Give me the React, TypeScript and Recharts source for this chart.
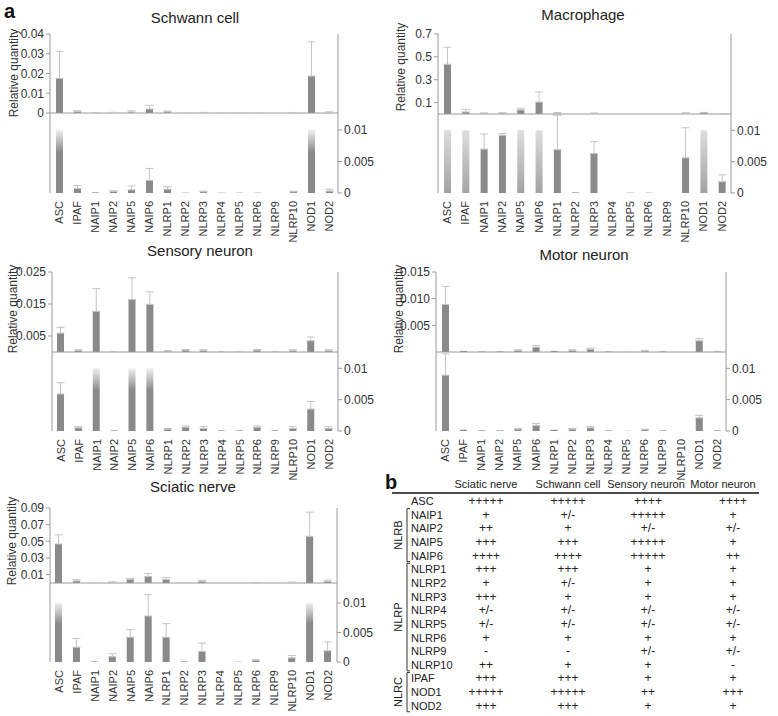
import React from 'react';
import { BarChart, Bar, XAxis, YAxis, ErrorBar, Cell, ReferenceLine } from 'recharts';

const genes = ['ASC', 'IPAF', 'NAIP1', 'NAIP2', 'NAIP5', 'NAIP6', 'NLRP1', 'NLRP2', 'NLRP3', 'NLRP4', 'NLRP5', 'NLRP6', 'NLRP9', 'NLRP10', 'NOD1', 'NOD2'];

const schwannValues = [0.0175, 0.0007, 0.0001, 0.00025, 0.0005, 0.002, 0.0006, 0.00005, 0.0002, 0.00005, 0.00005, 0.00005, 0, 0.0002, 0.0187, 0.0003];
const schwannErrors = [0.0137, 0.0005, 0, 0.0001, 0.0006, 0.0019, 0.0004, 0, 0.0001, 0, 0, 0, 0, 0.0001, 0.0173, 0.0003];

const macrophageValues = [0.435, 0.018, 0.007, 0.0092, 0.036, 0.104, 0.0069, 0.0001, 0.0063, 0, 0.00005, 0.00005, 0, 0.0056, 0.012, 0.0018];
const macrophageErrors = [0.149, 0.023, 0.0024, 0.0003, 0.014, 0.089, 0.0055, 0, 0.0019, 0, 0, 0, 0, 0.0048, 0.002, 0.0011];

const sensoryValues = [0.0059, 0.0005, 0.0127, 0.0001, 0.0164, 0.0149, 0.0003, 0.0006, 0.0004, 0.0001, 0.0001, 0.0006, 0.0001, 0.0004, 0.0035, 0.0004];
const sensoryErrors = [0.0018, 0.0002, 0.0071, 0, 0.0068, 0.0039, 0.0001, 0.0002, 0.0003, 0, 0, 0.0002, 0, 0.0003, 0.0012, 0.0003];

const motorValues = [0.0089, 0.0002, 0.0001, 0.0001, 0.0003, 0.0009, 0.0002, 0.0003, 0.0005, 0.0001, 0.00003, 0.0002, 0.0001, 0, 0.0021, 0.0001];
const motorErrors = [0.0034, 0, 0, 0, 0.0001, 0.0003, 0, 0.0001, 0.0002, 0, 0, 0.0001, 0, 0, 0.0004, 0];

const sciaticValues = [0.0468, 0.0025, 0.0001, 0.0009, 0.0042, 0.0078, 0.0042, 0.0001, 0.0018, 0, 0.00005, 0.0003, 0, 0.0007, 0.056, 0.0019];
const sciaticErrors = [0.011, 0.0015, 0, 0.0005, 0.0013, 0.0036, 0.0023, 0, 0.0014, 0, 0, 0.0001, 0, 0.0004, 0.029, 0.0015];

const schwannTicks = [0, 0.01, 0.02, 0.03, 0.04];
const schwannTickLabels = ['0', '0.01', '0.02', '0.03', '0.04'];
const macrophageTicks = [0.1, 0.3, 0.5, 0.7];
const macrophageTickLabels = ['0.1', '0.3', '0.5', '0.7'];
const sensoryTicks = [0.005, 0.015, 0.025];
const sensoryTickLabels = ['0.005', '0.015', '0.025'];
const motorTicks = [0.005, 0.01, 0.015];
const motorTickLabels = ['0.005', '0.010', '0.015'];
const sciaticTicks = [0.01, 0.03, 0.05, 0.07, 0.09];
const sciaticTickLabels = ['0.01', '0.03', '0.05', '0.07', '0.09'];
const zoomTicks = [0, 0.005, 0.01];
const zoomTickLabels = ['0', '0.005', '0.01'];
const boundaryTicks = [1, 2, 3, 4, 5, 6, 7, 8, 9, 10, 11, 12, 13, 14, 15];
const CAP = 0.01;

// table (panel b)
const tableHeaders = ['Sciatic nerve', 'Schwann cell', 'Sensory neuron', 'Motor neuron'];
const tableGenes = ['ASC', 'NAIP1', 'NAIP2', 'NAIP5', 'NAIP6', 'NLRP1', 'NLRP2', 'NLRP3', 'NLRP4', 'NLRP5', 'NLRP6', 'NLRP9', 'NLRP10', 'IPAF', 'NOD1', 'NOD2'];
const sciaticCol = ['+++++', '+', '++', '+++', '++++', '+++', '+', '+++', '+/-', '+/-', '+', '-', '++', '+++', '+++++', '+++'];
const schwannCol = ['+++++', '+/-', '+', '+++', '++++', '+++', '+/-', '+', '+/-', '+/-', '+', '-', '+', '+++', '+++++', '+++'];
const sensoryCol = ['++++', '+++++', '+/-', '+++++', '+++++', '+', '+', '+', '+/-', '+/-', '+', '+/-', '+', '+', '++', '+'];
const motorCol = ['++++', '+', '+/-', '+', '++', '+', '+', '+', '+/-', '+/-', '+', '+/-', '-', '+', '+++', '+'];
const tableGroups = [
  { name: 'NLRB', from: 1, to: 4 },
  { name: 'NLRP', from: 5, to: 12 },
  { name: 'NLRC', from: 13, to: 15 },
];

const FONT = "'Liberation Sans', Arial, Helvetica, sans-serif";
const BAR = '#8a8a8a';
const ERR = '#c4c4c4';
const AXIS = '#9a9a9a';
const TXT = '#333';

type PanelCfg = {
  id: string;
  title: string;
  titleX: number;
  titleY: number;
  labelX: number;
  labelY: number;
  left: number;
  right: number;
  top: number;
  mid: number;
  bot: number;
  values: number[];
  errors: number[];
  topMax: number;
  topTicks: number[];
  topTickLabels: string[];
  botMax: number;
  soft: boolean;
};

const panels: PanelCfg[] = [
  { id: 'sc', title: 'Schwann cell', titleX: 195, titleY: 17, labelX: 14, labelY: 73, left: 50, right: 338, top: 34, mid: 113, bot: 193, values: schwannValues, errors: schwannErrors, topMax: 0.04, topTicks: schwannTicks, topTickLabels: schwannTickLabels, botMax: 0.0127, soft: false },
  { id: 'ma', title: 'Macrophage', titleX: 583, titleY: 14, labelX: 401, labelY: 67, left: 438, right: 731, top: 34, mid: 114, bot: 193, values: macrophageValues, errors: macrophageErrors, topMax: 0.7, topTicks: macrophageTicks, topTickLabels: macrophageTickLabels, botMax: 0.0126, soft: true },
  { id: 'se', title: 'Sensory neuron', titleX: 200, titleY: 250, labelX: 13, labelY: 309, left: 52, right: 338, top: 272, mid: 352, bot: 431, values: sensoryValues, errors: sensoryErrors, topMax: 0.025, topTicks: sensoryTicks, topTickLabels: sensoryTickLabels, botMax: 0.0126, soft: false },
  { id: 'mo', title: 'Motor neuron', titleX: 584, titleY: 254, labelX: 399, labelY: 309, left: 436, right: 726, top: 272, mid: 352, bot: 431, values: motorValues, errors: motorErrors, topMax: 0.015, topTicks: motorTicks, topTickLabels: motorTickLabels, botMax: 0.0126, soft: false },
  { id: 'sn', title: 'Sciatic nerve', titleX: 193, titleY: 486, labelX: 12, labelY: 541, left: 50, right: 337, top: 508, mid: 583, bot: 662, values: sciaticValues, errors: sciaticErrors, topMax: 0.09, topTicks: sciaticTicks, topTickLabels: sciaticTickLabels, botMax: 0.0134, soft: false },
];

const RotTick = (props: any) => {
  const { x, y, payload } = props;
  return (
    <g transform={`translate(${x},${y})`}>
      <text transform="rotate(-90)" x={0} y={0} dy="0.35em" textAnchor="end" fontSize={11} fill={TXT} fontFamily={FONT}>
        {payload.value}
      </text>
    </g>
  );
};

function Panel({ cfg }: { cfg: PanelCfg }) {
  const data = genes.map((g, i) => {
    const v = cfg.values[i];
    const e = cfg.errors[i];
    const capped = v > CAP;
    return {
      gene: g,
      value: v,
      shown: Math.min(v, CAP),
      capped,
      errTop: e > 0 ? [0, e] : undefined,
      errLow: e > 0 && !capped ? [0, e] : undefined,
    };
  });
  const chartLeft = cfg.left - 50;
  const width = cfg.right - cfg.left + 100;
  const topH = cfg.mid - cfg.top;
  const botH = cfg.bot - cfg.mid;
  const gid = `grad-${cfg.id}`;
  const tickStyle = { fill: TXT, fontSize: 12, fontFamily: FONT };
  return (
    <>
      <div style={{ position: 'absolute', left: chartLeft, top: cfg.mid }}>
        <BarChart width={width} height={botH + 56} data={data} margin={{ top: 0, right: 0, bottom: 0, left: 0 }} barSize={7}>
          <defs>
            {cfg.soft ? (
              <linearGradient id={gid} x1="0" y1="0" x2="0" y2="1">
                <stop offset="0%" stopColor="#dedede" />
                <stop offset="100%" stopColor="#a2a2a2" />
              </linearGradient>
            ) : (
              <linearGradient id={gid} x1="0" y1="0" x2="0" y2="1">
                <stop offset="0%" stopColor="#efefef" />
                <stop offset="35%" stopColor={BAR} />
                <stop offset="100%" stopColor={BAR} />
              </linearGradient>
            )}
          </defs>
          <XAxis dataKey="gene" axisLine={false} tickLine={false} height={56} tick={<RotTick />} interval={0} tickMargin={2} />
          <YAxis yAxisId="l" domain={[0, 1]} ticks={[0.28, 0.56, 0.84]} tickFormatter={() => ''} width={50} stroke={AXIS} tickSize={4} />
          <YAxis
            yAxisId="r"
            orientation="right"
            domain={[0, cfg.botMax]}
            ticks={zoomTicks}
            tickFormatter={(v: number) => zoomTickLabels[zoomTicks.indexOf(v)] ?? ''}
            width={50}
            stroke={AXIS}
            tick={tickStyle}
            tickSize={4}
            interval={0}
          />
          <Bar yAxisId="r" dataKey="shown" fill={BAR} isAnimationActive={false}>
            {data.map((d, i) => (
              <Cell key={i} fill={d.capped ? `url(#${gid})` : BAR} />
            ))}
            <ErrorBar dataKey="errLow" stroke={ERR} width={4} strokeWidth={1} />
          </Bar>
        </BarChart>
      </div>
      <div style={{ position: 'absolute', left: chartLeft, top: cfg.top - 8 }}>
        <BarChart width={width} height={topH + 16} data={data} margin={{ top: 8, right: 0, bottom: 8, left: 0 }} barSize={7}>
          <XAxis dataKey="gene" hide />
          <XAxis
            xAxisId="b"
            type="number"
            domain={[0, 16]}
            ticks={boundaryTicks}
            tickFormatter={() => ''}
            height={0}
            axisLine={false}
            stroke={AXIS}
            tickSize={3}
            interval={0}
          />
          <YAxis
            yAxisId="l"
            domain={[0, cfg.topMax]}
            ticks={cfg.topTicks}
            tickFormatter={(v: number) => cfg.topTickLabels[cfg.topTicks.indexOf(v)] ?? ''}
            width={50}
            stroke={AXIS}
            tick={tickStyle}
            tickSize={4}
            interval={0}
          />
          <YAxis yAxisId="r" orientation="right" domain={[0, 1]} ticks={[0.19, 0.59, 0.98]} tickFormatter={() => ''} width={50} stroke={AXIS} tickSize={4} />
          <ReferenceLine yAxisId="l" y={0} stroke={AXIS} />
          <Bar yAxisId="l" dataKey="value" fill={BAR} isAnimationActive={false}>
            <ErrorBar dataKey="errTop" stroke={ERR} width={4} strokeWidth={1} />
          </Bar>
        </BarChart>
      </div>
    </>
  );
}

function Overlay() {
  const rowY0 = 501;
  const rowStep = 13.65;
  const cols = [486, 568, 648, 733];
  const headerX = [486, 568, 646, 723];
  const colData = [sciaticCol, schwannCol, sensoryCol, motorCol];
  return (
    <svg width={778} height={716} style={{ position: 'absolute', left: 0, top: 0, pointerEvents: 'none' }} fontFamily={FONT}>
      <text x={4} y={18} fontSize={20} fontWeight="bold" fill="#111">a</text>
      <text x={385} y={489} fontSize={20} fontWeight="bold" fill="#111">b</text>
      {panels.map((p) => (
        <g key={p.id}>
          <text x={p.titleX} y={p.titleY} fontSize={15} textAnchor="middle" dominantBaseline="central" fill="#222">{p.title}</text>
          <text transform={`translate(${p.labelX},${p.labelY}) rotate(-90)`} fontSize={12} textAnchor="middle" dominantBaseline="central" fill={TXT}>Relative quantity</text>
        </g>
      ))}
      {tableHeaders.map((h, i) => (
        <text key={h} x={headerX[i]} y={484} fontSize={11} textAnchor="middle" dominantBaseline="central" fill="#222">{h}</text>
      ))}
      <line x1={392} x2={759} y1={493} y2={493} stroke="#111" strokeWidth={1.6} />
      {tableGenes.map((g, r) => (
        <g key={g}>
          <text x={411} y={rowY0 + r * rowStep} fontSize={11} dominantBaseline="central" fill="#222">{g}</text>
          {colData.map((c, ci) => (
            <text key={ci} x={cols[ci]} y={rowY0 + r * rowStep} fontSize={12} textAnchor="middle" dominantBaseline="central" fill="#222">{c[r]}</text>
          ))}
        </g>
      ))}
      {tableGroups.map((grp) => {
        const y1 = rowY0 + grp.from * rowStep - 6;
        const y2 = rowY0 + grp.to * rowStep + 6;
        return (
          <g key={grp.name}>
            <path d={`M410,${y1} L407,${y1} L407,${y2} L410,${y2}`} fill="none" stroke="#333" strokeWidth={1} />
            <text transform={`translate(398,${(y1 + y2) / 2}) rotate(-90)`} fontSize={11} textAnchor="middle" dominantBaseline="central" fill="#222">{grp.name}</text>
          </g>
        );
      })}
    </svg>
  );
}

export default function App() {
  return (
    <div style={{ position: 'absolute', left: 0, top: 0, width: 778, height: 716, background: '#fff', fontFamily: FONT }}>
      {panels.map((p) => (
        <Panel key={p.id} cfg={p} />
      ))}
      <Overlay />
    </div>
  );
}
